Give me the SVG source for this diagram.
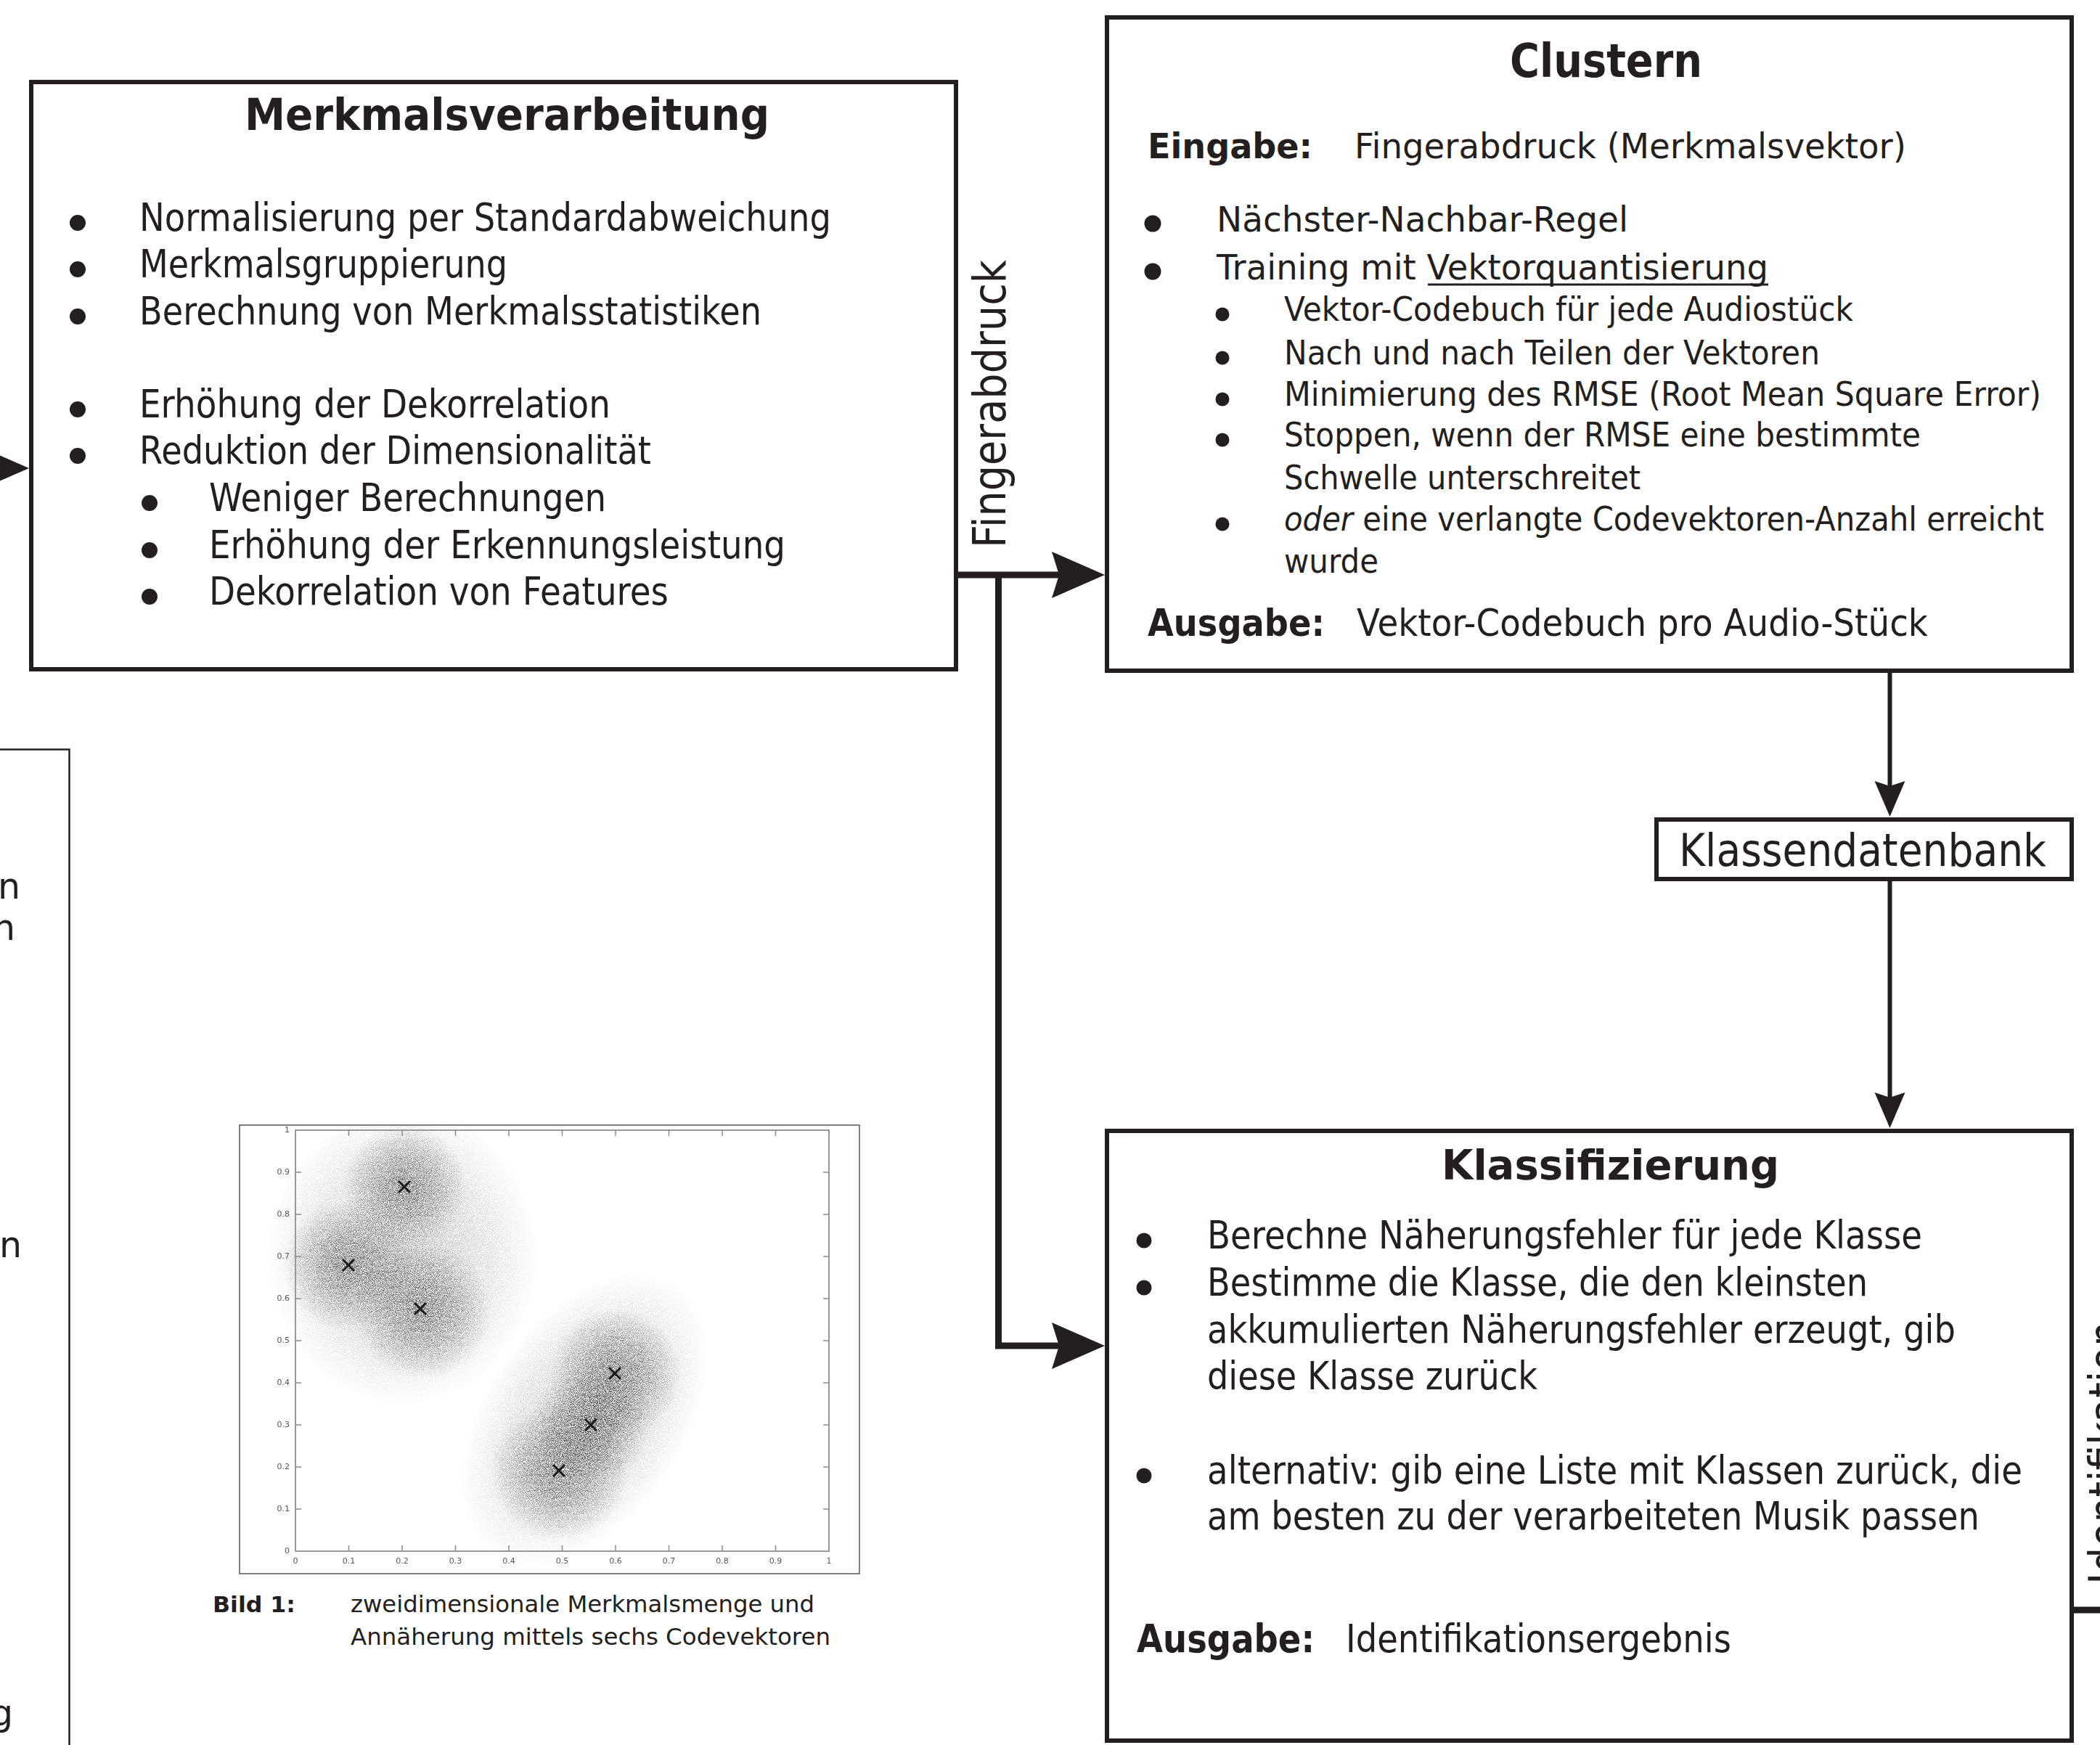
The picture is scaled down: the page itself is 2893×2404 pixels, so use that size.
<svg xmlns="http://www.w3.org/2000/svg" width="2893" height="2404" viewBox="0 0 2893 2404">
<style>
.box{fill:#fff;stroke:#231f20;stroke-width:6}
.thin{fill:none;stroke:#231f20;stroke-width:2.5}
.t{font-family:'DejaVu Sans',Verdana,sans-serif;fill:#231f20}
.b{font-weight:bold}
.dot{fill:#231f20}
.conn{fill:none;stroke:#231f20;stroke-width:9}
.conn2{fill:none;stroke:#231f20;stroke-width:6}
.tick{stroke:#8a8a8a;stroke-width:1.5}
.tl{font-family:'DejaVu Sans',sans-serif;font-size:11px;fill:#555}
.x{stroke:#1a1a1a;stroke-width:3;fill:none}
</style>
<defs>
<path id="ahL" d="M0,0 L-73,-32 L-63,0 L-73,32 Z" fill="#231f20"/>
<path id="ahS" d="M0,0 L-49,-21 L-42,0 L-49,21 Z" fill="#231f20"/>
<path id="cross" d="M-8,-8 L8,8 M-8,8 L8,-8"/>
<radialGradient id="blob"><stop offset="0" stop-color="#000" stop-opacity="0.6"/><stop offset="0.45" stop-color="#000" stop-opacity="0.38"/><stop offset="1" stop-color="#000" stop-opacity="0"/></radialGradient>
<radialGradient id="halo"><stop offset="0" stop-color="#000" stop-opacity="0.32"/><stop offset="0.65" stop-color="#000" stop-opacity="0.14"/><stop offset="1" stop-color="#000" stop-opacity="0"/></radialGradient>
<filter id="speckle" filterUnits="userSpaceOnUse" x="330" y="1550" width="854" height="618">
<feTurbulence type="fractalNoise" baseFrequency="1.1" numOctaves="1" seed="7" result="noise"/>
<feColorMatrix in="noise" type="matrix" values="0 0 0 0 0  0 0 0 0 0  0 0 0 0 0  4 0 0 0 -1.5" result="m"/>
<feComposite in="SourceGraphic" in2="m" operator="in"/>
</filter>
</defs>
<rect width="2893" height="2404" fill="#fff"/>

<g id="node-merkmalsverarbeitung">
<rect class="box" x="43" y="113" width="1274" height="809"/>
<text class="t b" x="337" y="179" font-size="60" textLength="723" lengthAdjust="spacingAndGlyphs">Merkmalsverarbeitung</text>
<circle class="dot" cx="107" cy="307" r="11"/>
<circle class="dot" cx="107" cy="371" r="11"/>
<circle class="dot" cx="107" cy="436" r="11"/>
<circle class="dot" cx="107" cy="564" r="11"/>
<circle class="dot" cx="107" cy="628" r="11"/>
<circle class="dot" cx="206" cy="693" r="11"/>
<circle class="dot" cx="206" cy="758" r="11"/>
<circle class="dot" cx="206" cy="822" r="11"/>
<g class="t" font-size="53">
<text x="192" y="318" textLength="953" lengthAdjust="spacingAndGlyphs">Normalisierung per Standardabweichung</text>
<text x="192" y="382" textLength="507" lengthAdjust="spacingAndGlyphs">Merkmalsgruppierung</text>
<text x="192" y="447" textLength="857" lengthAdjust="spacingAndGlyphs">Berechnung von Merkmalsstatistiken</text>
<text x="192" y="575" textLength="649" lengthAdjust="spacingAndGlyphs">Erhöhung der Dekorrelation</text>
<text x="192" y="639" textLength="705" lengthAdjust="spacingAndGlyphs">Reduktion der Dimensionalität</text>
<text x="288" y="704" textLength="547" lengthAdjust="spacingAndGlyphs">Weniger Berechnungen</text>
<text x="288" y="769" textLength="794" lengthAdjust="spacingAndGlyphs">Erhöhung der Erkennungsleistung</text>
<text x="288" y="833" textLength="633" lengthAdjust="spacingAndGlyphs">Dekorrelation von Features</text>
</g>
</g>

<g id="node-clustern">
<rect class="box" x="1525" y="24" width="1329" height="900"/>
<text class="t b" x="2080" y="106" font-size="64" textLength="265" lengthAdjust="spacingAndGlyphs">Clustern</text>
<text class="t b" x="1581" y="218" font-size="48" textLength="227" lengthAdjust="spacingAndGlyphs">Eingabe:</text>
<text class="t" x="1866" y="218" font-size="48" textLength="760" lengthAdjust="spacingAndGlyphs">Fingerabdruck (Merkmalsvektor)</text>
<circle class="dot" cx="1588" cy="308" r="11.5"/>
<circle class="dot" cx="1588" cy="374" r="11.5"/>
<text class="t" x="1676" y="319" font-size="48" textLength="567" lengthAdjust="spacingAndGlyphs">Nächster-Nachbar-Regel</text>
<text class="t" x="1676" y="385" font-size="48" textLength="760" lengthAdjust="spacingAndGlyphs">Training mit Vektorquantisierung</text>
<line x1="1967" y1="392" x2="2436" y2="392" stroke="#231f20" stroke-width="3"/>
<circle class="dot" cx="1684" cy="433" r="9.5"/>
<circle class="dot" cx="1684" cy="493" r="9.5"/>
<circle class="dot" cx="1684" cy="550" r="9.5"/>
<circle class="dot" cx="1684" cy="606" r="9.5"/>
<circle class="dot" cx="1684" cy="722" r="9.5"/>
<g class="t" font-size="46">
<text x="1769" y="442" textLength="784" lengthAdjust="spacingAndGlyphs">Vektor-Codebuch für jede Audiostück</text>
<text x="1769" y="502" textLength="738" lengthAdjust="spacingAndGlyphs">Nach und nach Teilen der Vektoren</text>
<text x="1769" y="559" textLength="1043" lengthAdjust="spacingAndGlyphs">Minimierung des RMSE (Root Mean Square Error)</text>
<text x="1769" y="615" textLength="877" lengthAdjust="spacingAndGlyphs">Stoppen, wenn der RMSE eine bestimmte</text>
<text x="1769" y="674" textLength="491" lengthAdjust="spacingAndGlyphs">Schwelle unterschreitet</text>
<text x="1769" y="731" textLength="1047" lengthAdjust="spacingAndGlyphs"><tspan font-style="italic">oder</tspan> eine verlangte Codevektoren-Anzahl erreicht</text>
<text x="1769" y="789" textLength="130" lengthAdjust="spacingAndGlyphs">wurde</text>
</g>
<text class="t b" x="1581" y="876" font-size="51" textLength="244" lengthAdjust="spacingAndGlyphs">Ausgabe:</text>
<text class="t" x="1869" y="876" font-size="51" textLength="787" lengthAdjust="spacingAndGlyphs">Vektor-Codebuch pro Audio-Stück</text>
</g>

<g id="node-klassendatenbank">
<rect class="box" x="2282" y="1129" width="572" height="82"/>
<text class="t" x="2313" y="1193" font-size="62" textLength="506" lengthAdjust="spacingAndGlyphs">Klassendatenbank</text>
</g>

<g id="node-klassifizierung">
<rect class="box" x="1525" y="1558" width="1329" height="840"/>
<text class="t b" x="1986" y="1625" font-size="57" textLength="465" lengthAdjust="spacingAndGlyphs">Klassifizierung</text>
<circle class="dot" cx="1576" cy="1709" r="10.5"/>
<circle class="dot" cx="1576" cy="1774" r="10.5"/>
<circle class="dot" cx="1576" cy="2033" r="10.5"/>
<g class="t" font-size="53">
<text x="1663" y="1720" textLength="985" lengthAdjust="spacingAndGlyphs">Berechne Näherungsfehler für jede Klasse</text>
<text x="1663" y="1785" textLength="910" lengthAdjust="spacingAndGlyphs">Bestimme die Klasse, die den kleinsten</text>
<text x="1663" y="1850" textLength="1031" lengthAdjust="spacingAndGlyphs">akkumulierten Näherungsfehler erzeugt, gib</text>
<text x="1663" y="1914" textLength="455" lengthAdjust="spacingAndGlyphs">diese Klasse zurück</text>
<text x="1663" y="2044" textLength="1123" lengthAdjust="spacingAndGlyphs">alternativ: gib eine Liste mit Klassen zurück, die</text>
<text x="1663" y="2107" textLength="1064" lengthAdjust="spacingAndGlyphs">am besten zu der verarbeiteten Musik passen</text>
</g>
<text class="t b" x="1566" y="2276" font-size="53" textLength="245" lengthAdjust="spacingAndGlyphs">Ausgabe:</text>
<text class="t" x="1854" y="2276" font-size="53" textLength="531" lengthAdjust="spacingAndGlyphs">Identifikationsergebnis</text>
</g>

<g id="node-left-partial">
<path class="thin" d="M0,1032.5 H95.5 V2404"/>
<g class="t" font-size="49" text-anchor="end">
<text x="28" y="1238">n</text>
<text x="21" y="1295">n</text>
<text x="30" y="1732">en</text>
<text x="18" y="2377">g</text>
</g>
</g>

<g id="node-bild1">
<rect x="330" y="1550" width="854" height="618" fill="#fff" stroke="#555" stroke-width="1.5"/>
<g filter="url(#speckle)">
<ellipse cx="555" cy="1730" rx="190" ry="210" fill="url(#halo)"/>
<circle cx="480" cy="1743" r="90" fill="url(#blob)"/>
<circle cx="558" cy="1635" r="85" fill="url(#blob)"/>
<circle cx="582" cy="1805" r="95" fill="url(#blob)"/>
<ellipse cx="805" cy="1955" rx="230" ry="140" transform="rotate(-56 805 1955)" fill="url(#halo)"/>
<circle cx="848" cy="1893" r="90" fill="url(#blob)"/>
<circle cx="815" cy="1963" r="80" fill="url(#blob)"/>
<circle cx="771" cy="2027" r="95" fill="url(#blob)"/>
</g>
<rect x="407" y="1557" width="735" height="580" fill="none" stroke="#999" stroke-width="2"/>
<path class="tick" d="M480.5,2137v-8M554,2137v-8M627.5,2137v-8M701,2137v-8M774.5,2137v-8M848,2137v-8M921.5,2137v-8M995,2137v-8M1068.5,2137v-8M480.5,1557v8M554,1557v8M627.5,1557v8M701,1557v8M774.5,1557v8M848,1557v8M921.5,1557v8M995,1557v8M1068.5,1557v8M407,2079h8M407,2021h8M407,1963h8M407,1905h8M407,1847h8M407,1789h8M407,1731h8M407,1673h8M407,1615h8M1142,2079h-8M1142,2021h-8M1142,1963h-8M1142,1905h-8M1142,1847h-8M1142,1789h-8M1142,1731h-8M1142,1673h-8M1142,1615h-8"/>
<g class="tl" text-anchor="middle">
<text x="407" y="2154">0</text><text x="480.5" y="2154">0.1</text><text x="554" y="2154">0.2</text><text x="627.5" y="2154">0.3</text><text x="701" y="2154">0.4</text><text x="774.5" y="2154">0.5</text><text x="848" y="2154">0.6</text><text x="921.5" y="2154">0.7</text><text x="995" y="2154">0.8</text><text x="1068.5" y="2154">0.9</text><text x="1142" y="2154">1</text>
</g>
<g class="tl" text-anchor="end">
<text x="399" y="2140">0</text><text x="399" y="2082">0.1</text><text x="399" y="2024">0.2</text><text x="399" y="1966">0.3</text><text x="399" y="1908">0.4</text><text x="399" y="1850">0.5</text><text x="399" y="1792">0.6</text><text x="399" y="1734">0.7</text><text x="399" y="1676">0.8</text><text x="399" y="1618">0.9</text><text x="399" y="1560">1</text>
</g>
<g class="x">
<use href="#cross" x="480" y="1743"/>
<use href="#cross" x="557" y="1635"/>
<use href="#cross" x="579" y="1803"/>
<use href="#cross" x="847" y="1892"/>
<use href="#cross" x="814" y="1963"/>
<use href="#cross" x="770" y="2026"/>
</g>
<text class="t b" x="293" y="2221" font-size="31" textLength="114" lengthAdjust="spacingAndGlyphs">Bild 1:</text>
<text class="t" x="483" y="2221" font-size="32" textLength="639" lengthAdjust="spacingAndGlyphs">zweidimensionale Merkmalsmenge und</text>
<text class="t" x="483" y="2266" font-size="32" textLength="661" lengthAdjust="spacingAndGlyphs">Annäherung mittels sechs Codevektoren</text>
</g>

<g id="connectors">
<use href="#ahL" transform="translate(40,645)"/>
<path class="conn" d="M1320,792 H1465"/>
<use href="#ahL" transform="translate(1522,792)"/>
<path class="conn" d="M1375.5,792 V1854 H1465"/>
<use href="#ahL" transform="translate(1522,1854)"/>
<path class="conn2" d="M2603.5,927 V1085"/>
<use href="#ahS" transform="translate(2603.5,1125) rotate(90)"/>
<path class="conn2" d="M2603.5,1214 V1515"/>
<use href="#ahS" transform="translate(2603.5,1554) rotate(90)"/>
<path class="conn" d="M2857,2218 H2893"/>
<text class="t" transform="translate(1385,755) rotate(-90)" font-size="62" textLength="397" lengthAdjust="spacingAndGlyphs">Fingerabdruck</text>
<text class="t" transform="translate(2922,2183) rotate(-90)" font-size="62" textLength="363" lengthAdjust="spacingAndGlyphs">Identifikation</text>
</g>
</svg>
